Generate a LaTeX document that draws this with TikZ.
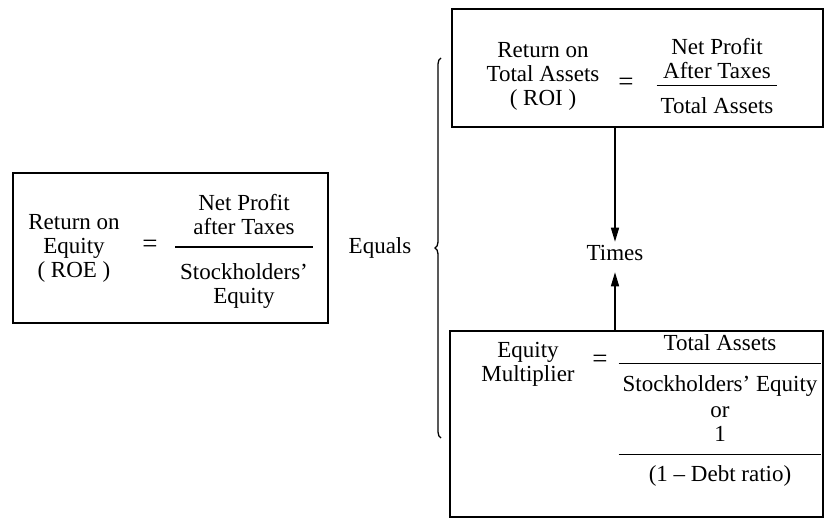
\documentclass[tikz,border=0pt]{standalone}
\usepackage{fontspec}
\setmainfont{Liberation Serif}
\usetikzlibrary{arrows.meta,positioning,decorations.pathreplacing}
\setlength{\arrayrulewidth}{1.2pt}

\begin{document}
\begin{tikzpicture}[
  x=1pt, y=-1pt,
  font=\fontsize{23}{24}\selectfont,
  box/.style={draw, line width=1.5pt, inner sep=0pt},
  lbl/.style={align=center, inner sep=0pt},
  eqs/.style={font=\fontsize{27}{27}\selectfont},
  frac/.style={inner sep=0pt},
  arr/.style={-{Triangle[length=14pt,width=8pt]}, line width=1.4pt},
  brc/.style={decorate, decoration={brace, amplitude=6pt}, line width=1.3pt}
]
\useasboundingbox (0,0) rectangle (825,527);

% return on equity
\node[box, minimum width=315pt, minimum height=150pt] (roe) at (170.5,248) {};
\node[lbl] (roelbl) at (74,248) {Return on\\Equity\\( ROE )};
\node[eqs] (roeeq) at (150,246) {=};
\node[frac] (roefrac) at (244,252) {\begin{tabular}{@{\hspace{5pt}}c@{\hspace{5pt}}}
  Net Profit\\ after Taxes\\[5pt]\hline
  \rule{0pt}{32pt}Stockholders'\\ Equity
  \end{tabular}};

\node (equals) at (380,248) {Equals};
\draw[brc] (441,438) -- (441,58);

% return on total assets
\node[box, minimum width=371pt, minimum height=118pt] (roi) at (637.5,68) {};
\node[lbl] (roilbl) at (543,76) {Return on\\Total Assets\\( ROI )};
\node[eqs] (roieq) at (626,84) {=};
\node[frac] (roifrac) at (717,79) {\begin{tabular}{@{\hspace{4pt}}c@{\hspace{4pt}}}
  Net Profit\\ After Taxes\\\hline
  \rule{0pt}{27pt}Total Assets
  \end{tabular}};

% equity multiplier
\node[box, minimum width=373pt, minimum height=186pt] (em) at (636.5,424) {};
\node[lbl] (emlbl) at (528,364) {Equity\\Multiplier};
\node[eqs] (emeq) at (600,361) {=};
\node[frac] (emfrac) at (720,411) {\begin{tabular}{@{\hspace{4pt}}c@{\hspace{4pt}}}
  Total Assets\\[5pt]\hline
  \rule{0pt}{28pt}Stockholders' Equity\\[2pt]
  or\\
  1\\[5pt]\hline
  \rule{0pt}{26pt}(1 -- Debt ratio)
  \end{tabular}};

\node (times) at (615,253) {Times};
\draw[arr] (roi.south -| times) -- (times.north);
\draw[arr, shorten >=8pt] (em.north -| times) -- (times.south);
\end{tikzpicture}
\end{document}
